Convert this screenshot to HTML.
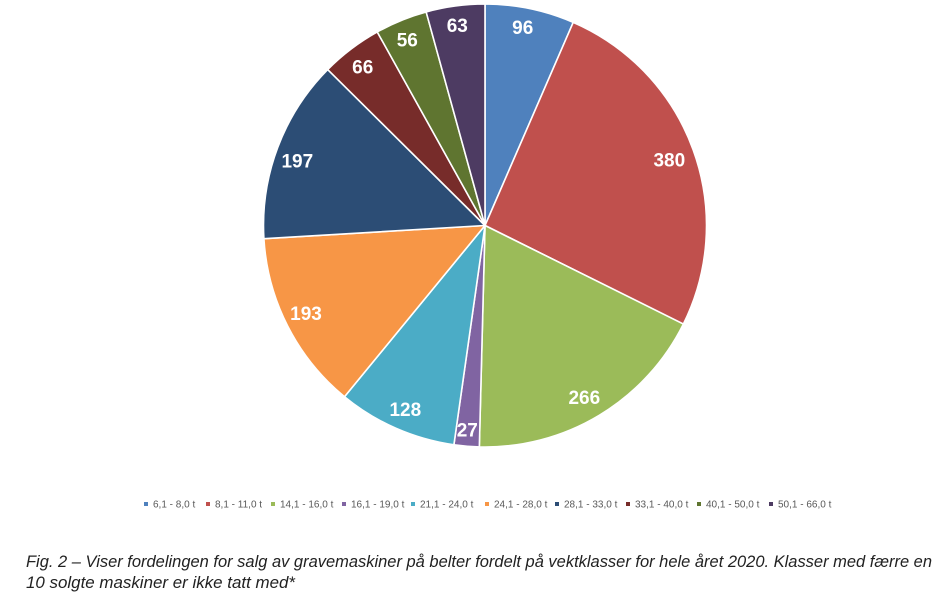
<!DOCTYPE html>
<html>
<head>
<meta charset="utf-8">
<style>
  html,body{margin:0;padding:0;background:#fff;}
  svg{display:block;}
</style>
</head>
<body>
<svg width="944" height="610" viewBox="0 0 944 610" xmlns="http://www.w3.org/2000/svg">
  <rect width="944" height="610" fill="#ffffff"/>
  <g stroke="#ffffff" stroke-width="1.6" stroke-linejoin="round">
    <path d="M485,225.5 L485,4 A221.5,221.5 0 0,1 573.24,22.34 Z" fill="#4F81BD"/>
    <path d="M485,225.5 L573.24,22.34 A221.5,221.5 0 0,1 683.37,324.05 Z" fill="#C0504D"/>
    <path d="M485,225.5 L683.37,324.05 A221.5,221.5 0 0,1 479.33,446.93 Z" fill="#9BBB59"/>
    <path d="M485,225.5 L479.33,446.93 A221.5,221.5 0 0,1 453.90,444.81 Z" fill="#8064A2"/>
    <path d="M485,225.5 L453.90,444.81 A221.5,221.5 0 0,1 344.48,396.72 Z" fill="#4BACC6"/>
    <path d="M485,225.5 L344.48,396.72 A221.5,221.5 0 0,1 263.90,238.73 Z" fill="#F79646"/>
    <path d="M485,225.5 L263.90,238.73 A221.5,221.5 0 0,1 327.71,69.55 Z" fill="#2C4D75"/>
    <path d="M485,225.5 L327.71,69.55 A221.5,221.5 0 0,1 377.27,31.96 Z" fill="#772C2A"/>
    <path d="M485,225.5 L377.27,31.96 A221.5,221.5 0 0,1 426.15,11.96 Z" fill="#5F7530"/>
    <path d="M485,225.5 L426.15,11.96 A221.5,221.5 0 0,1 485,4 Z" fill="#4D3B62"/>
  </g>
  <g font-family="'Liberation Sans', sans-serif" font-weight="bold" font-size="19" fill="#ffffff" text-anchor="middle">
    <text x="522.7" y="34">96</text>
    <text x="669.3" y="166.5">380</text>
    <text x="584.3" y="404">266</text>
    <text x="467.3" y="436.7">27</text>
    <text x="405.3" y="416">128</text>
    <text x="306" y="320">193</text>
    <text x="297.3" y="167.4">197</text>
    <text x="362.7" y="73.4">66</text>
    <text x="407.3" y="46.7">56</text>
    <text x="457.3" y="32">63</text>
  </g>
  <g font-family="'Liberation Sans', sans-serif" font-size="10" fill="#595959">
    <rect x="144" y="502" width="4" height="4" fill="#4F81BD"/><text x="153" y="507.6">6,1 - 8,0 t</text>
    <rect x="206" y="502" width="4" height="4" fill="#C0504D"/><text x="215" y="507.6">8,1 - 11,0 t</text>
    <rect x="271" y="502" width="4" height="4" fill="#9BBB59"/><text x="280" y="507.6">14,1 - 16,0 t</text>
    <rect x="342" y="502" width="4" height="4" fill="#8064A2"/><text x="351" y="507.6">16,1 - 19,0 t</text>
    <rect x="411" y="502" width="4" height="4" fill="#4BACC6"/><text x="420" y="507.6">21,1 - 24,0 t</text>
    <rect x="485" y="502" width="4" height="4" fill="#F79646"/><text x="494" y="507.6">24,1 - 28,0 t</text>
    <rect x="555" y="502" width="4" height="4" fill="#2C4D75"/><text x="564" y="507.6">28,1 - 33,0 t</text>
    <rect x="626" y="502" width="4" height="4" fill="#772C2A"/><text x="635" y="507.6">33,1 - 40,0 t</text>
    <rect x="697" y="502" width="4" height="4" fill="#5F7530"/><text x="706" y="507.6">40,1 - 50,0 t</text>
    <rect x="769" y="502" width="4" height="4" fill="#4D3B62"/><text x="778" y="507.6">50,1 - 66,0 t</text>
  </g>
  <g font-family="'Liberation Sans', sans-serif" font-style="italic" font-size="16.5" fill="#222222">
    <text x="26" y="567" textLength="906" lengthAdjust="spacingAndGlyphs">Fig. 2 – Viser fordelingen for salg av gravemaskiner på belter fordelt på vektklasser for hele året 2020. Klasser med færre en</text>
    <text x="26" y="588" textLength="269" lengthAdjust="spacingAndGlyphs">10 solgte maskiner er ikke tatt med*</text>
  </g>
</svg>
</body>
</html>
